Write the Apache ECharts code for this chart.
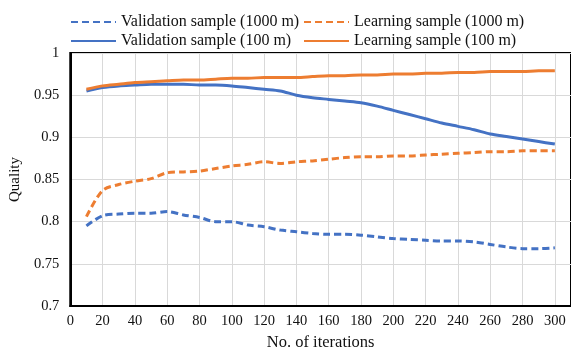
<!DOCTYPE html>
<html>
<head>
<meta charset="utf-8">
<script src="https://cdn.jsdelivr.net/npm/echarts@6/dist/echarts.min.js"></script>
<style>
html,body{margin:0;padding:0;background:#fff;}
#chart{width:571px;height:356px;}
</style>
</head>
<body>
<div id="chart"></div>
<script>
var iterations = [10,20,30,40,50,60,70,80,90,100,110,120,130,140,150,160,170,180,190,200,210,220,230,240,250,260,270,280,290,300];
var validation1000 = [0.795,0.807,0.809,0.810,0.810,0.812,0.808,0.805,0.800,0.800,0.796,0.794,0.790,0.788,0.786,0.785,0.785,0.784,0.782,0.780,0.779,0.778,0.777,0.777,0.776,0.773,0.770,0.768,0.768,0.769];
var learning1000 = [0.806,0.837,0.844,0.848,0.851,0.858,0.859,0.860,0.863,0.866,0.868,0.871,0.869,0.871,0.872,0.874,0.876,0.877,0.877,0.878,0.878,0.879,0.880,0.881,0.882,0.883,0.883,0.884,0.884,0.884];
var validation100 = [0.955,0.959,0.961,0.962,0.963,0.963,0.963,0.962,0.962,0.961,0.959,0.957,0.955,0.950,0.947,0.945,0.943,0.941,0.937,0.932,0.927,0.922,0.917,0.913,0.909,0.904,0.901,0.898,0.895,0.892];
var learning100 = [0.957,0.961,0.963,0.965,0.966,0.967,0.968,0.968,0.969,0.970,0.970,0.971,0.971,0.971,0.972,0.973,0.973,0.974,0.974,0.975,0.975,0.976,0.976,0.977,0.977,0.978,0.978,0.978,0.979,0.979];
var seriesNames = ['Validation sample (1000 m)','Learning sample (1000 m)','Validation sample (100 m)','Learning sample (100 m)'];

var BLUE = '#4472C4', ORANGE = '#ED7D31';
var FONT = '"Liberation Serif", "Times New Roman", serif';

function pairs(ys){ return iterations.map(function(x,i){ return [x, ys[i]]; }); }
function mkSeries(name, ys, color, dashed){
  return {
    name: name, type: 'line', data: pairs(ys), smooth: 0.3, symbol: 'none', showSymbol: false,
    lineStyle: {color: color, width: 3, type: dashed ? [7,4] : 'solid'},
    itemStyle: {color: color}
  };
}
function mkLegend(name, left, top){
  return {
    data: [name], left: left, top: top, itemWidth: 45, itemHeight: 12, itemGap: 0,
    itemStyle: {opacity: 0},
    textStyle: {fontFamily: FONT, fontSize: 16, color: '#111'}, padding: 0
  };
}

var chart = echarts.init(document.getElementById('chart'));
chart.setOption({
  animation: false,
  backgroundColor: '#fff',
  legend: [
    mkLegend(seriesNames[0], 70, 14),
    mkLegend(seriesNames[1], 303, 14),
    mkLegend(seriesNames[2], 70, 33),
    mkLegend(seriesNames[3], 303, 33)
  ],
  grid: {left: 68, right: -3, top: 53, bottom: 46, show: true, borderColor: '#000', borderWidth: 2, containLabel: false},
  xAxis: {
    type: 'value', min: 0, max: 310, interval: 20,
    name: 'No. of iterations', nameLocation: 'middle', nameGap: 28,
    nameTextStyle: {fontFamily: FONT, fontSize: 16.5, color: '#111'},
    axisLine: {show: true, lineStyle: {color: '#000', width: 2}},
    axisTick: {show: false},
    axisLabel: {fontFamily: FONT, fontSize: 14.5, color: '#111', margin: 8, showMaxLabel: false},
    splitLine: {show: true, lineStyle: {color: '#d9d9d9', width: 1}}
  },
  yAxis: {
    type: 'value', min: 0.7, max: 1, interval: 0.05,
    name: 'Quality', nameLocation: 'middle', nameGap: 37,
    nameTextStyle: {fontFamily: FONT, fontSize: 15, color: '#111'},
    axisLine: {show: true, lineStyle: {color: '#000', width: 2}},
    axisTick: {show: false},
    axisLabel: {fontFamily: FONT, fontSize: 14.5, color: '#111', margin: 11},
    splitLine: {show: true, lineStyle: {color: '#d9d9d9', width: 1}}
  },
  series: [
    mkSeries(seriesNames[0], validation1000, BLUE, true),
    mkSeries(seriesNames[1], learning1000, ORANGE, true),
    mkSeries(seriesNames[2], validation100, BLUE, false),
    mkSeries(seriesNames[3], learning100, ORANGE, false)
  ]
});
</script>
</body>
</html>
